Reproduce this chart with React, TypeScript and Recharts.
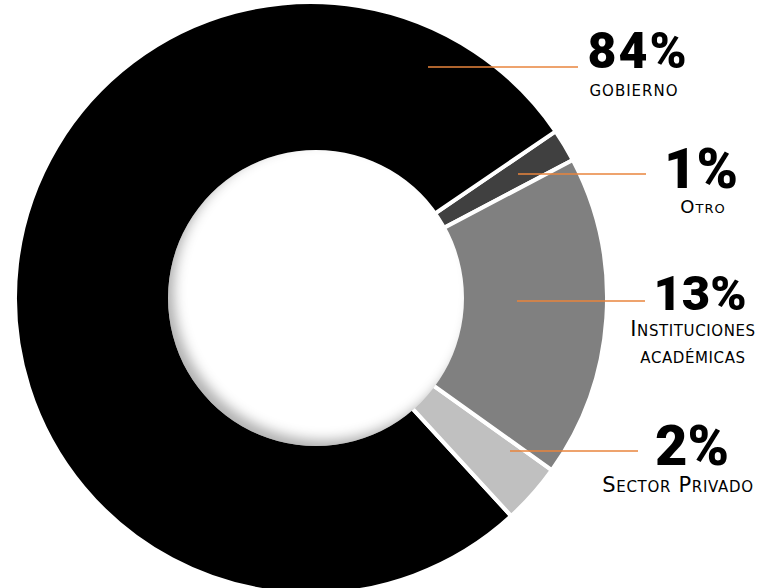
import { PieChart, Pie, Cell } from "recharts";

// slices in drawing order, counter-clockwise from the right-hand side
const categories = ["Otro", "GOBIERNO", "Sector Privado", "Instituciones|académicas"];
const sliceShares = [1.8, 77.3, 3.3, 17.6];
const percentLabels = ["1%", "84%", "2%", "13%"];

const sliceColors = ["#404040", "#000000", "#c0c0c0", "#808080"];

// label layout (x centre, baselines, sizes, leader line start)
const labelLayout = [
  { x: 701, y: 188, size: 56, track: 0, sub: 18, subX: 703, subY: 213, subTrack: 1, lineX: 518, lineY: 174, lineEnd: 646 },
  { x: 638, y: 68, size: 50, track: 2, sub: 15, subX: 634, subY: 96, subTrack: 1, lineX: 428, lineY: 67, lineEnd: 578 },
  { x: 692, y: 465, size: 56, track: 0, sub: 21, subX: 678, subY: 492, subTrack: 0.7, lineX: 510, lineY: 451, lineEnd: 638 },
  { x: 700, y: 310, size: 49, track: 0, sub: 21, subX: 693, subY: 336, subTrack: 0.6, lineX: 517, lineY: 301, lineEnd: 645 },
];

const data = categories.map((name, i) => ({ name, value: sliceShares[i] }));
const hole = [{ name: "hole", value: 1 }];

const ORANGE = "#e8843c";

function SliceLabel(props: { index?: number }) {
  const i = props.index ?? 0;
  const l = labelLayout[i];
  const lines = categories[i].split("|");
  return (
    <g>
      <line x1={l.lineX} y1={l.lineY} x2={l.lineEnd} y2={l.lineY} stroke={ORANGE} strokeWidth={1.5} />
      <text
        x={l.x}
        y={l.y}
        textAnchor="middle"
        fontFamily="Roboto, sans-serif"
        fontWeight={900}
        fontSize={l.size}
        letterSpacing={l.track}
        fill="#000"
      >
        {percentLabels[i]}
      </text>
      {lines.map((t, k) => (
        <text
          key={k}
          x={l.subX}
          y={l.subY + k * 27}
          textAnchor="middle"
          fontFamily="'DejaVu Sans', sans-serif"
          fontSize={l.sub}
          letterSpacing={l.subTrack}
          style={{ fontVariant: "small-caps" }}
          fill="#000"
        >
          {t}
        </text>
      ))}
    </g>
  );
}

export default function App() {
  return (
    <div style={{ position: "absolute", left: 0, top: 0, background: "#fff" }}>
      <PieChart width={772} height={588} margin={{ top: 0, right: 0, bottom: 0, left: 0 }}>
        <defs>
          <filter id="innerShadow" x="-20%" y="-20%" width="140%" height="140%">
            <feComponentTransfer in="SourceAlpha">
              <feFuncA type="table" tableValues="1 0" />
            </feComponentTransfer>
            <feGaussianBlur stdDeviation="6" />
            <feOffset dx="7" dy="-7" result="offsetblur" />
            <feFlood floodColor="#000" floodOpacity="0.55" result="color" />
            <feComposite in="color" in2="offsetblur" operator="in" />
            <feComposite in2="SourceAlpha" operator="in" result="shadow" />
            <feMerge>
              <feMergeNode in="SourceGraphic" />
              <feMergeNode in="shadow" />
            </feMerge>
          </filter>
        </defs>
        <Pie
          data={data}
          dataKey="value"
          nameKey="name"
          cx={311}
          cy={298}
          innerRadius={140}
          outerRadius={296}
          startAngle={27.8}
          endAngle={387.8}
          stroke="#ffffff"
          strokeWidth={4}
          label={SliceLabel}
          labelLine={false}
          isAnimationActive={false}
        >
          {data.map((d, i) => (
            <Cell key={d.name} fill={sliceColors[i]} />
          ))}
        </Pie>
        <Pie
          data={hole}
          dataKey="value"
          cx={316}
          cy={298}
          innerRadius={0}
          outerRadius={148}
          startAngle={90}
          endAngle={450}
          fill="#ffffff"
          stroke="none"
          isAnimationActive={false}
        >
          <Cell fill="#ffffff" filter="url(#innerShadow)" />
        </Pie>
      </PieChart>
    </div>
  );
}
